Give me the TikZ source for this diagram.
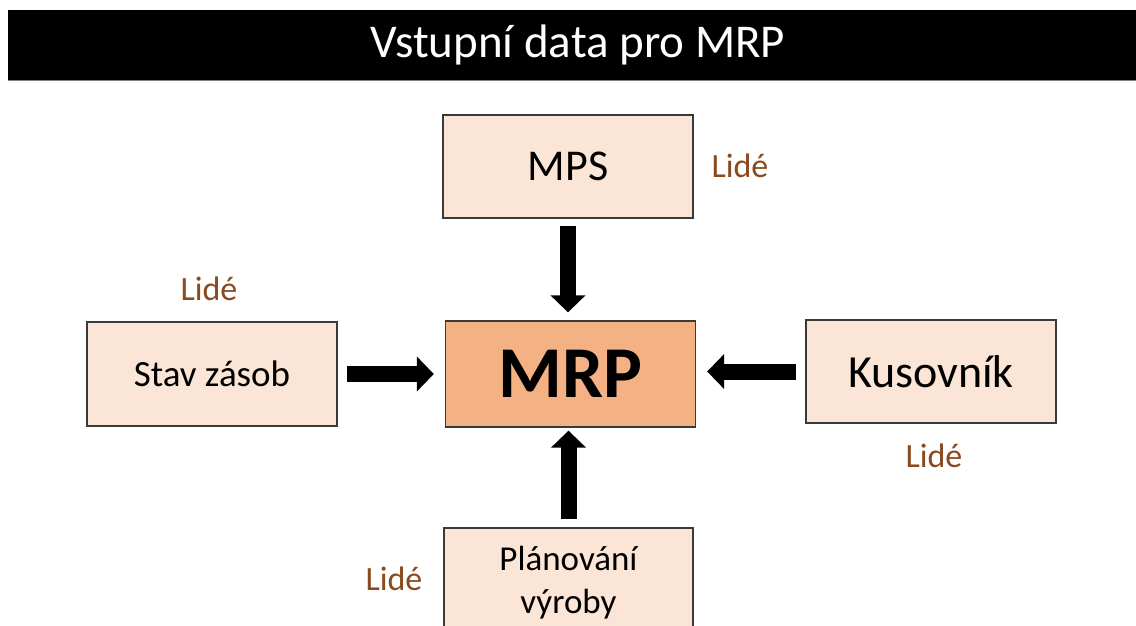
\documentclass[tikz,border=0pt]{standalone}
\usepackage{fontspec}
\setmainfont{Carlito}
\usetikzlibrary{arrows.meta}
\definecolor{boxfill}{HTML}{FBE5D6}
\definecolor{mrpfill}{HTML}{F4B183}
\definecolor{lidecol}{HTML}{8B4A1E}
\definecolor{edgecol}{HTML}{3A3A3A}
\tikzset{
  inbox/.style={draw=edgecol, line width=1.3pt, fill=boxfill, minimum width=250pt, minimum height=104pt, inner sep=0pt, align=center, font=\fontsize{37}{44}\selectfont},
  mrpbox/.style={inbox, fill=mrpfill, minimum height=106pt, font=\fontsize{73}{80}\selectfont\bfseries},
  lide/.style={text=lidecol, inner sep=0pt, font=\fontsize{34}{38}\selectfont},
  bigarrow/.style={line width=16pt, -{Triangle[width=34pt,length=17pt]}}
}
\begin{document}
\begin{tikzpicture}[x=1pt,y=-1pt]
\useasboundingbox (0,0) rectangle (1136,625);
\clip (0,0) rectangle (1136,625);
\fill[white] (0,0) rectangle (1136,625);
% title bar
\fill[black] (8,10) rectangle (1136,80);
\draw[gray, line width=1pt] (8,80.5) -- (1136,80.5);
\node[text=white, font=\fontsize{47}{52}\selectfont, inner sep=0pt] (title) at (578,45) {Vstupní data pro MRP};
% boxes
\node[inbox, font=\fontsize{44}{50}\selectfont, minimum height=103pt] (mps) at (568,166.5) {MPS};
\node[mrpbox] (mrp) at (570.5,374) {MRP};
\node[inbox] (stav) at (212,374) {Stav zásob};
\node[inbox, font=\fontsize{46}{52}\selectfont, minimum height=103pt] (kus) at (931,371.5) {Kusovník};
\node[inbox, minimum width=249pt, minimum height=110pt, font=\fontsize{35}{43}\selectfont] (plan) at (568.5,583) {Plánování\\výroby};
% labels
\node[lide] (l1) at (740,166) {Lidé};
\node[lide] (l2) at (209,289) {Lidé};
\node[lide] (l3) at (934,456) {Lidé};
\node[lide] (l4) at (394,579) {Lidé};
% arrows
\draw[bigarrow, shorten <=7pt, shorten >=8pt] (mps.south) -- (mps.south |- mrp.north);
\draw[bigarrow, shorten <=9pt, shorten >=11pt] (stav.east) -- (mrp.west);
\draw[bigarrow, shorten <=9pt, shorten >=11pt] (kus.west) -- (kus.west -| mrp.east);
\draw[bigarrow, shorten <=8pt, shorten >=3pt] (plan.north) -- (plan.north |- mrp.south);
\end{tikzpicture}
\end{document}
